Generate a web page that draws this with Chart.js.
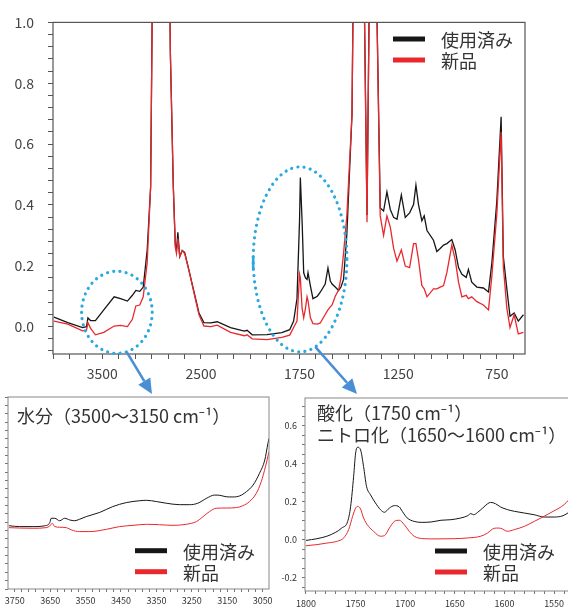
<!DOCTYPE html>
<html>
<head>
<meta charset="utf-8">
<script src="https://cdn.jsdelivr.net/npm/chart.js@4.4.0/dist/chart.umd.min.js"></script>
<style>
  html, body { margin: 0; padding: 0; background: #fff; width: 568px; height: 607px; overflow: hidden; }
  canvas { position: absolute; }
  #main { left: 0; top: 0; }
  #water { left: 0; top: 380px; }
  #oxid { left: 280px; top: 380px; }
</style>
</head>
<body>
<canvas id="main" width="568" height="607"></canvas>
<canvas id="water" width="290" height="227"></canvas>
<canvas id="oxid" width="295" height="227"></canvas>
<script>
// ---- data (wavenumber in cm-1, absorbance) ----
const seriesLabels = ["使用済み", "新品"];

const mainWavenumbers = [
  3990, 3850, 3700, 3660, 3646, 3620, 3570, 3485, 3380, 3315,
  3245, 3195, 3160, 3120, 3085, 3045, 3010, 2995, 2960, 2925,
  2890, 2855, 2825, 2810, 2780, 2760, 2748, 2734, 2715, 2690,
  2665, 2625, 2570, 2520, 2470, 2400, 2335, 2200, 2060, 2032,
  1990, 1915, 1840, 1800, 1780, 1763, 1750, 1746, 1737, 1729,
  1720, 1712, 1707, 1695, 1682, 1660, 1645, 1620, 1606, 1594,
  1585, 1569, 1552, 1540, 1527, 1510, 1484, 1465, 1430, 1408,
  1390, 1377, 1362, 1341, 1324, 1307, 1290, 1273, 1256, 1234,
  1214, 1192, 1172, 1160, 1147, 1130, 1118, 1104, 1071, 1054,
  1037, 1020, 1003, 978, 961, 944, 927, 905, 894, 877,
  851, 818, 792, 775, 750, 728, 717, 699, 683, 662,
  641, 615
];
const mainUsed = [
  0.031, 0.013, -0.003, 0.000, 0.029, 0.020, 0.020, 0.055, 0.098, 0.092,
  0.084, 0.103, 0.119, 0.116, 0.130, 0.252, 0.46, 1.0, 2.0, 3.0,
  2.2, 2.6, 1.4, 0.9, 0.46, 0.27, 0.25, 0.31, 0.23, 0.25,
  0.244, 0.19, 0.114, 0.045, 0.013, 0.012, 0.016, -0.003, -0.015, -0.012,
  -0.027, -0.026, -0.020, -0.010, 0.018, 0.092, 0.35, 0.49, 0.345, 0.177,
  0.16, 0.155, 0.177, 0.134, 0.092, 0.10, 0.113, 0.14, 0.193, 0.15,
  0.14, 0.13, 0.119, 0.13, 0.155, 0.305, 0.7, 2.0, 1.5, 0.367,
  1.5, 2.5, 1.2, 0.39, 0.38, 0.443, 0.385, 0.359, 0.353, 0.433,
  0.359, 0.374, 0.401, 0.465, 0.401, 0.348, 0.364, 0.316, 0.284, 0.247,
  0.257, 0.268, 0.273, 0.286, 0.252, 0.194, 0.172, 0.162, 0.188, 0.146,
  0.13, 0.127, 0.114, 0.21, 0.411, 0.69, 0.231, 0.124, 0.034, 0.045,
  0.018, 0.039
];
const mainNew = [
  0.018, 0.008, -0.014, -0.012, 0.013, -0.005, -0.027, -0.019, 0.002, 0.004,
  0.000, 0.024, 0.068, 0.071, 0.098, 0.210, 0.46, 1.0, 2.0, 3.0,
  2.2, 2.6, 1.4, 0.9, 0.46, 0.26, 0.24, 0.29, 0.23, 0.25,
  0.24, 0.19, 0.11, 0.04, 0.002, 0.000, 0.005, -0.019, -0.030, -0.027,
  -0.040, -0.043, -0.035, -0.028, -0.003, 0.018, 0.172, 0.16, 0.06, 0.029,
  0.06, 0.098, 0.085, 0.029, 0.010, 0.008, 0.012, 0.04, 0.055, 0.065,
  0.071, 0.10, 0.12, 0.16, 0.24, 0.367, 0.7, 2.0, 1.5, 0.343,
  1.5, 2.5, 1.2, 0.364, 0.30, 0.364, 0.327, 0.257, 0.215, 0.252,
  0.199, 0.194, 0.273, 0.273, 0.22, 0.135, 0.124, 0.098, 0.124, 0.124,
  0.13, 0.135, 0.178, 0.268, 0.22, 0.146, 0.098, 0.103, 0.092, 0.098,
  0.082, 0.071, 0.055, 0.167, 0.369, 0.64, 0.199, 0.06, -0.003, 0.039,
  -0.024, -0.019
];
const mainTickLabels = [3500, 2500, 1750, 1250, 750];

// water region (3500-3150) zoom
const waterUsedX = [3766, 3736, 3698, 3665, 3651, 3647, 3637, 3623, 3609, 3595, 3581, 3567, 3548, 3510, 3473, 3435, 3397, 3378, 3350, 3322, 3284, 3256, 3233, 3209, 3186, 3171, 3153, 3134, 3115, 3096, 3077, 3059, 3044, 3035, 3032];
const waterUsedY = [0.103, 0.099, 0.099, 0.103, 0.118, 0.139, 0.139, 0.127, 0.139, 0.131, 0.127, 0.134, 0.147, 0.167, 0.195, 0.214, 0.223, 0.225, 0.219, 0.211, 0.204, 0.204, 0.211, 0.234, 0.250, 0.249, 0.242, 0.241, 0.246, 0.266, 0.298, 0.354, 0.418, 0.498, 0.522];
const waterNewX = [3766, 3736, 3698, 3661, 3651, 3644, 3637, 3623, 3604, 3590, 3567, 3538, 3491, 3454, 3416, 3378, 3341, 3303, 3266, 3237, 3218, 3200, 3181, 3153, 3124, 3106, 3087, 3068, 3054, 3042, 3032];
const waterNewY = [0.094, 0.092, 0.091, 0.094, 0.102, 0.115, 0.099, 0.096, 0.094, 0.083, 0.075, 0.075, 0.086, 0.099, 0.105, 0.110, 0.108, 0.105, 0.110, 0.123, 0.147, 0.171, 0.187, 0.188, 0.190, 0.199, 0.219, 0.258, 0.314, 0.386, 0.458];
const waterTickLabels = [3750, 3650, 3550, 3450, 3350, 3250, 3150, 3050];

// oxidation / nitration region zoom
const oxUsedX = [1800, 1789, 1779, 1770, 1764, 1758, 1755, 1752, 1750, 1748, 1745, 1742, 1739, 1735, 1730, 1725, 1721, 1716, 1711, 1706, 1703, 1698, 1691, 1684, 1674, 1664, 1654, 1644, 1637, 1634, 1631, 1627, 1622, 1617, 1614, 1609, 1604, 1597, 1590, 1580, 1570, 1560, 1550, 1541, 1535];
const oxUsedY = [-0.004, 0.005, 0.018, 0.039, 0.061, 0.096, 0.175, 0.332, 0.455, 0.486, 0.472, 0.385, 0.280, 0.236, 0.193, 0.158, 0.144, 0.166, 0.179, 0.172, 0.149, 0.114, 0.096, 0.091, 0.093, 0.102, 0.105, 0.114, 0.126, 0.137, 0.131, 0.144, 0.166, 0.189, 0.196, 0.189, 0.172, 0.158, 0.149, 0.140, 0.131, 0.119, 0.119, 0.126, 0.144];
const oxNewX = [1800, 1789, 1779, 1769, 1762, 1757, 1753, 1750, 1748, 1745, 1742, 1737, 1732, 1725, 1721, 1716, 1711, 1706, 1701, 1696, 1691, 1681, 1668, 1651, 1637, 1624, 1617, 1612, 1608, 1604, 1597, 1590, 1580, 1570, 1560, 1551, 1545, 1540, 1535];
const oxNewY = [-0.032, -0.026, -0.018, -0.009, 0.009, 0.053, 0.123, 0.166, 0.175, 0.161, 0.114, 0.070, 0.044, 0.018, 0.021, 0.061, 0.096, 0.102, 0.079, 0.044, 0.018, 0.005, 0.004, 0.005, 0.009, 0.018, 0.035, 0.056, 0.061, 0.060, 0.044, 0.053, 0.070, 0.096, 0.123, 0.149, 0.166, 0.184, 0.210];
const oxTickLabels = [1800, 1750, 1700, 1650, 1600, 1550];

const waterTitle = ["水分（3500〜3150 cm⁻¹）"];
const oxTitle = ["酸化（1750 cm⁻¹）", "ニトロ化（1650〜1600 cm⁻¹）"];

// ---- helpers ----
const FONT = "'Noto Sans CJK JP', 'Noto Sans', sans-serif";
const USED_COLOR = "#161616";
const NEW_COLOR = "#e8282c";
Chart.defaults.font.family = FONT;

// IR spectra: above 2000 cm-1 the axis is compressed by half
const toAxis = (w) => (w > 2000 ? 2000 + (w - 2000) / 2 : w);
const fromAxis = (t) => (t > 2000 ? 2000 + (t - 2000) * 2 : t);

const range = (start, stop, step) => {
  const out = [];
  for (let v = start; v <= stop + step * 1e-6; v += step) out.push(Math.round(v * 1e6) / 1e6);
  return out;
};

const pairs = (xs, ys, fx = (v) => v) => xs.map((x, i) => ({ x: fx(x), y: ys[i] }));

const lineSet = (label, data, color, width, order, smooth) => ({
  label,
  data,
  borderColor: color,
  borderWidth: width,
  pointRadius: 0,
  fill: false,
  order,
  tension: smooth ? 0.4 : 0,
  cubicInterpolationMode: smooth ? "monotone" : "default",
});

// frame, titles and legend drawn over each panel
const panelDecor = (cfg) => ({
  id: "panelDecor",
  afterDraw(chart) {
    const { ctx, chartArea: a } = chart;
    ctx.save();
    ctx.strokeStyle = cfg.frameColor;
    ctx.lineWidth = cfg.frameWidth;
    ctx.strokeRect(a.left, a.top, a.right - a.left, a.bottom - a.top);

    ctx.fillStyle = "#333";
    ctx.textAlign = "left";
    ctx.textBaseline = "middle";
    ctx.font = "18px " + FONT;
    (cfg.titles || []).forEach((t, i) => ctx.fillText(t, cfg.titleX, cfg.titleY + i * 22));

    chart.data.datasets.forEach((ds, i) => {
      const y = cfg.legendY + i * 21;
      ctx.strokeStyle = ds.borderColor;
      ctx.lineWidth = 5;
      ctx.beginPath();
      ctx.moveTo(cfg.legendX, y);
      ctx.lineTo(cfg.legendX + 32, y);
      ctx.stroke();
      ctx.font = "18px " + FONT;
      ctx.fillText(ds.label, cfg.legendX + 48, y + 1.5);
    });
    ctx.restore();
  },
});

// dotted ellipses and arrows pointing to the zoomed panels
const highlights = [
  { from: 3710, to: 2994, top: 0.182, bottom: -0.088, arrowAngle: 74, tip: [152, 394], mark: false },
  { from: 1985, to: 1510, top: 0.525, bottom: -0.083, arrowAngle: 71, tip: [357, 394], mark: true },
];
const highlightPlugin = {
  id: "highlights",
  afterDraw(chart) {
    const { ctx, scales: { x, y } } = chart;
    ctx.save();
    highlights.forEach((h) => {
      const x1 = x.getPixelForValue(toAxis(h.from));
      const x2 = x.getPixelForValue(toAxis(h.to));
      const y1 = y.getPixelForValue(h.top);
      const y2 = y.getPixelForValue(h.bottom);
      const cx = (x1 + x2) / 2, cy = (y1 + y2) / 2;
      const rx = Math.abs(x2 - x1) / 2, ry = Math.abs(y2 - y1) / 2;

      ctx.strokeStyle = "#2aa9e1";
      ctx.lineWidth = 3.2;
      ctx.lineCap = "round";
      ctx.setLineDash([0.01, 6.3]);
      ctx.beginPath();
      ctx.ellipse(cx, cy, rx, ry, 0, 0, Math.PI * 2);
      ctx.stroke();
      ctx.setLineDash([]);

      if (h.mark) {
        ctx.lineCap = "butt";
        ctx.lineWidth = 2.6;
        ctx.beginPath();
        ctx.moveTo(cx - rx, cy - 3);
        ctx.lineTo(cx - rx, cy + 11);
        ctx.stroke();
      }

      const ang = (h.arrowAngle * Math.PI) / 180;
      const sx = cx + rx * Math.cos(ang), sy = cy + ry * Math.sin(ang);
      const [tx, ty] = h.tip;
      const dir = Math.atan2(ty - sy, tx - sx);
      const headLen = 15, headW = 7;
      const bx = tx - headLen * Math.cos(dir), by = ty - headLen * Math.sin(dir);
      ctx.strokeStyle = "#4a8fd3";
      ctx.fillStyle = "#4a8fd3";
      ctx.lineCap = "butt";
      ctx.lineWidth = 2.6;
      ctx.beginPath();
      ctx.moveTo(sx, sy);
      ctx.lineTo(bx, by);
      ctx.stroke();
      ctx.beginPath();
      ctx.moveTo(tx, ty);
      ctx.lineTo(bx + headW * Math.sin(dir), by - headW * Math.cos(dir));
      ctx.lineTo(bx - headW * Math.sin(dir), by + headW * Math.cos(dir));
      ctx.closePath();
      ctx.fill();
    });
    ctx.restore();
  },
};

const baseOptions = (padding) => ({
  responsive: false,
  animation: false,
  events: [],
  layout: { padding, autoPadding: false },
  plugins: { legend: { display: false }, tooltip: { enabled: false } },
  elements: { point: { radius: 0 } },
});

// ---- main spectrum ----
const mainMinor = range(750 - 500 / 6, 3000, 500 / 6);
const mainYTicks = range(-0.08, 1.0, 0.04);

new Chart(document.getElementById("main"), {
  type: "line",
  data: {
    datasets: [
      lineSet(seriesLabels[0], pairs(mainWavenumbers, mainUsed, toAxis), USED_COLOR, 1.3, 1, false),
      lineSet(seriesLabels[1], pairs(mainWavenumbers, mainNew, toAxis), NEW_COLOR, 1.3, 0, false),
    ],
  },
  options: {
    ...baseOptions({ left: 0, top: 10, right: 43, bottom: 223 }),
    scales: {
      x: {
        type: "linear",
        reverse: true,
        min: toAxis(607),
        max: toAxis(4000),
        afterBuildTicks: (s) => { s.ticks = mainMinor.map((v) => ({ value: v })); },
        afterFit: (s) => { s.height = 30; },
        grid: { drawOnChartArea: false, tickLength: 5, color: "#555" },
        border: { display: false },
        ticks: {
          autoSkip: false,
          maxRotation: 0,
          padding: 6,
          color: "#444",
          font: { size: 14 },
          callback: (v) => {
            const w = Math.round(fromAxis(v));
            return mainTickLabels.includes(w) ? String(w) : "";
          },
        },
      },
      y: {
        type: "linear",
        min: -0.09,
        max: 1.0,
        afterBuildTicks: (s) => { s.ticks = mainYTicks.map((v) => ({ value: v })); },
        afterFit: (s) => { s.width = 53; },
        grid: { drawOnChartArea: false, tickLength: 5, color: "#555" },
        border: { display: false },
        ticks: {
          autoSkip: false,
          padding: 14,
          color: "#444",
          font: { size: 14 },
          callback: (v) => (Math.abs(v * 5 - Math.round(v * 5)) < 1e-6 ? v.toFixed(1) : ""),
        },
      },
    },
  },
  plugins: [
    panelDecor({ frameColor: "#555", frameWidth: 1.2, legendX: 393, legendY: 39 }),
    highlightPlugin,
  ],
});

// ---- inset: water ----
new Chart(document.getElementById("water"), {
  type: "line",
  data: {
    datasets: [
      lineSet(seriesLabels[0], pairs(waterUsedX, waterUsedY), USED_COLOR, 1, 1, true),
      lineSet(seriesLabels[1], pairs(waterNewX, waterNewY), NEW_COLOR, 1, 0, true),
    ],
  },
  options: {
    ...baseOptions({ left: 0, top: 17, right: 21, bottom: 0 }),
    scales: {
      x: {
        type: "linear",
        reverse: true,
        min: 3032,
        max: 3769,
        afterBuildTicks: (s) => { s.ticks = range(3050, 3750, 20).map((v) => ({ value: v })); },
        afterFit: (s) => { s.height = 18; },
        grid: { drawOnChartArea: false, tickLength: 3, color: "#777" },
        border: { display: false },
        ticks: {
          autoSkip: false,
          maxRotation: 0,
          padding: 3,
          color: "#333",
          font: { size: 9 },
          callback: (v) => (waterTickLabels.includes(Math.round(v)) ? String(Math.round(v)) : ""),
        },
      },
      y: {
        type: "linear",
        min: -0.2,
        max: 0.72,
        afterBuildTicks: (s) => { s.ticks = range(-0.2, 0.72, 0.04).map((v) => ({ value: v })); },
        afterFit: (s) => { s.width = 8; },
        grid: { drawOnChartArea: false, tickLength: 3, color: "#777" },
        border: { display: false },
        ticks: { autoSkip: false, padding: 0, callback: () => "" },
      },
    },
  },
  plugins: [
    panelDecor({ frameColor: "#888", frameWidth: 1, titles: waterTitle, titleX: 17, titleY: 35.7, legendX: 135, legendY: 170.7 }),
  ],
});

// ---- inset: oxidation / nitration ----
new Chart(document.getElementById("oxid"), {
  type: "line",
  data: {
    datasets: [
      lineSet(seriesLabels[0], pairs(oxUsedX, oxUsedY), USED_COLOR, 1, 1, true),
      lineSet(seriesLabels[1], pairs(oxNewX, oxNewY), NEW_COLOR, 1, 0, true),
    ],
  },
  options: {
    ...baseOptions({ left: 0, top: 18, right: 5, bottom: 0 }),
    scales: {
      x: {
        type: "linear",
        reverse: true,
        min: 1534,
        max: 1801,
        afterBuildTicks: (s) => { s.ticks = range(1540, 1800, 10).map((v) => ({ value: v })); },
        afterFit: (s) => { s.height = 16; },
        grid: { drawOnChartArea: false, tickLength: 3, color: "#777" },
        border: { display: false },
        ticks: {
          autoSkip: false,
          maxRotation: 0,
          padding: 4,
          color: "#333",
          font: { size: 9 },
          callback: (v) => (oxTickLabels.includes(Math.round(v)) ? String(Math.round(v)) : ""),
        },
      },
      y: {
        type: "linear",
        min: -0.27,
        max: 0.745,
        afterBuildTicks: (s) => { s.ticks = range(-0.25, 0.7, 0.05).map((v) => ({ value: v })); },
        afterFit: (s) => { s.width = 25; },
        grid: { drawOnChartArea: false, tickLength: 3, color: "#777" },
        border: { display: false },
        ticks: {
          autoSkip: false,
          padding: 5,
          color: "#333",
          font: { size: 9 },
          callback: (v) => (Math.abs(v * 5 - Math.round(v * 5)) < 1e-6 ? v.toFixed(1) : ""),
        },
      },
    },
  },
  plugins: [
    panelDecor({ frameColor: "#888", frameWidth: 1, titles: oxTitle, titleX: 37, titleY: 33.3, legendX: 155, legendY: 171 }),
  ],
});
</script>
</body>
</html>
